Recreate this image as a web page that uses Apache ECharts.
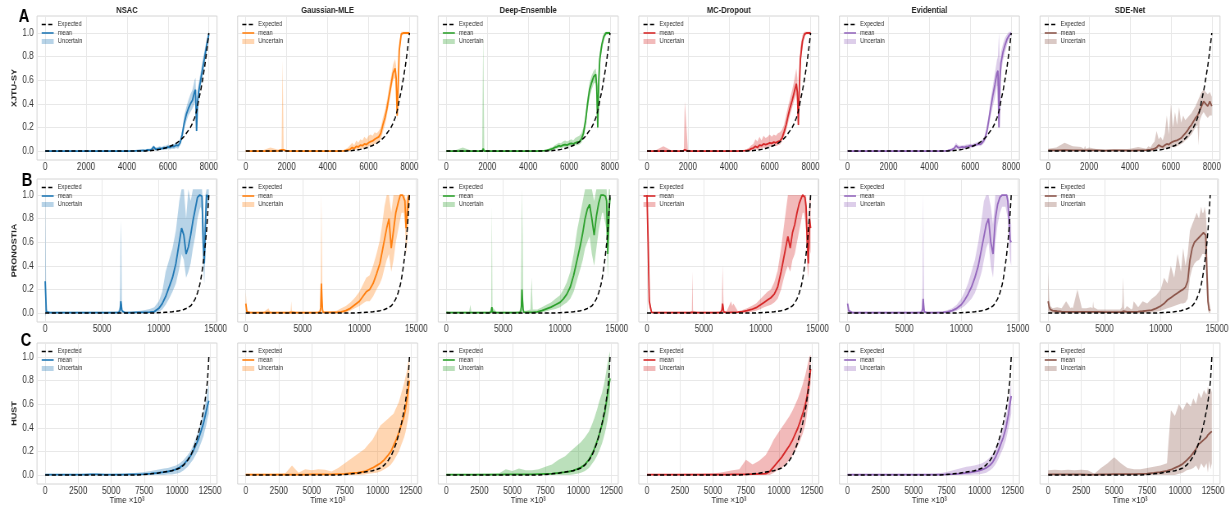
<!DOCTYPE html>
<html><head><meta charset="utf-8">
<script src="https://cdn.jsdelivr.net/npm/echarts@6/dist/echarts.min.js"></script>
<style>html,body{margin:0;padding:0;background:#fff;overflow:hidden;width:1231px;height:505px}
#c{width:1501px;height:505px;transform:scaleX(0.82);transform-origin:0 0}</style>
</head><body><div id="c"></div>
<script>
// ---------------- DATA ----------------
const METHODS = ['NSAC', 'Gaussian-MLE', 'Deep-Ensemble', 'MC-Dropout', 'Evidential', 'SDE-Net'];
const DATASETS = ['XJTU-SY', 'PRONOSTIA', 'HUST'];
const LETTERS = ['A', 'B', 'C'];
const X_TICKS_A = [0, 2000, 4000, 6000, 8000];
const X_TICKS_B = [0, 5000, 10000, 15000];
const X_TICKS_C = [0, 2500, 5000, 7500, 10000, 12500];
const Y_TICKS = [0, 0.2, 0.4, 0.6, 0.8, 1.0];

// Row A (XJTU-SY)
const X_A = [0,400,800,1200,1600,1750,1800,1850,2000,2400,2800,3200,3600,4000,4400, 4800,4900,5000,5100,5200,5300,5400,5500,5600,5700, 5800,5900,6000,6100,6200,6300,6400,6500,6600,6700, 6800,6900,7000,7100,7200,7300,7350,7400,7450,7500, 7600,7700,7800,7900,8000];
const EXP_A = [0,0,0,0,0,0,0,0,0,0,0,0,0,0,0, 0.001,0.001,0.002,0.003,0.004,0.006,0.008,0.011,0.014,0.018, 0.022,0.027,0.033,0.04,0.047,0.056,0.065,0.077,0.09,0.107, 0.125,0.15,0.175,0.2,0.235,0.28,0.305,0.34,0.38,0.43, 0.51,0.61,0.72,0.85,1.0];

const A_NSAC_MEAN = [0,0,0,0,0,0,0,0,0,0,0,0,0,0,0.002, 0.005,0.004,0.01,0.008,0.012,0.035,0.015,0.018,0.022,0.02, 0.028,0.025,0.035,0.03,0.04,0.038,0.05,0.045,0.07,0.14, 0.24,0.31,0.36,0.4,0.43,0.5,0.52,0.17,0.42,0.5, 0.6,0.7,0.8,0.9,0.99];
const A_NSAC_LO = [0,0,0,0,0,0,0,0,0,0,0,0,0,0,0, 0,0,0.002,0,0.003,0.015,0.005,0.005,0.01,0.008, 0.012,0.01,0.018,0.012,0.02,0.018,0.025,0.02,0.05,0.1, 0.19,0.25,0.3,0.33,0.36,0.4,0.42,0.15,0.36,0.44, 0.54,0.64,0.74,0.85,0.95];
const A_NSAC_HI = [0.005,0.005,0.005,0.005,0.005,0.005,0.005,0.005,0.005,0.005,0.005,0.005,0.005,0.005,0.006, 0.01,0.01,0.02,0.02,0.025,0.05,0.03,0.035,0.04,0.035, 0.045,0.045,0.055,0.05,0.06,0.06,0.075,0.07,0.1,0.18, 0.3,0.37,0.43,0.48,0.52,0.6,0.62,0.3,0.5,0.57, 0.67,0.77,0.86,0.95,1.02];

const A_GAU_MEAN = [0,0,0,0,0.002,0.01,0.02,0.01,0,0,0,0,0,0,0, 0.002,0.005,0.01,0.015,0.03,0.02,0.04,0.035,0.05,0.045, 0.06,0.055,0.07,0.08,0.085,0.1,0.11,0.12,0.15,0.22, 0.28,0.36,0.46,0.56,0.66,0.7,0.62,0.3,0.55,0.85, 0.99,1.0,1.0,1.0,1.0];
const A_GAU_LO = [0,0,0,0,0,0,0,0,0,0,0,0,0,0,0, 0,0,0,0.002,0.01,0.005,0.015,0.01,0.02,0.02, 0.03,0.025,0.04,0.045,0.05,0.06,0.07,0.08,0.1,0.16, 0.22,0.3,0.4,0.5,0.6,0.62,0.5,0.25,0.48,0.8, 0.97,0.99,0.99,0.99,0.99];
const A_GAU_HI = [0.005,0.005,0.005,0.03,0.01,0.02,0.77,0.02,0.005,0.005,0.005,0.005,0.005,0.005,0.005, 0.008,0.02,0.03,0.05,0.07,0.05,0.09,0.07,0.1,0.09, 0.12,0.1,0.13,0.14,0.13,0.16,0.15,0.17,0.2,0.28, 0.34,0.43,0.53,0.63,0.73,0.78,0.72,0.42,0.62,0.92, 1.01,1.01,1.01,1.01,1.01];

const A_DE_MEAN = [0,0,0,0,0,0,0.02,0,0,0,0,0,0,0,0, 0.003,0.005,0.01,0.015,0.02,0.03,0.035,0.045,0.04,0.05, 0.055,0.05,0.06,0.065,0.06,0.07,0.075,0.08,0.1,0.15, 0.25,0.4,0.52,0.58,0.63,0.65,0.55,0.2,0.6,0.78, 0.9,0.97,1.0,1.0,1.0];
const A_DE_LO = [0,0,0,0,0,0,0,0,0,0,0,0,0,0,0, 0,0,0,0.005,0.008,0.015,0.02,0.025,0.022,0.03, 0.035,0.03,0.04,0.045,0.04,0.05,0.05,0.055,0.07,0.11, 0.2,0.34,0.46,0.52,0.57,0.58,0.35,0.17,0.5,0.72, 0.86,0.94,0.98,0.99,0.99];
const A_DE_HI = [0.005,0.005,0.03,0.005,0.005,0.01,1.0,0.01,0.005,0.005,0.005,0.005,0.005,0.005,0.005, 0.008,0.012,0.02,0.03,0.035,0.05,0.06,0.07,0.065,0.08, 0.09,0.08,0.09,0.1,0.09,0.11,0.12,0.13,0.15,0.2, 0.31,0.46,0.58,0.64,0.68,0.7,0.64,0.3,0.66,0.84, 0.94,1.0,1.01,1.01,1.01];

const A_MC_MEAN = [0,0,0,0,0,0,0,0.01,0,0,0,0,0,0,0, 0.003,0.006,0.01,0.02,0.025,0.04,0.03,0.05,0.045,0.06, 0.055,0.06,0.07,0.065,0.075,0.07,0.08,0.085,0.11,0.16, 0.22,0.3,0.37,0.43,0.5,0.57,0.5,0.22,0.55,0.78, 0.93,0.99,1.0,1.0,1.0];
const A_MC_LO = [0,0,0,0,0,0,0,0,0,0,0,0,0,0,0, 0,0,0,0.005,0.01,0.015,0.01,0.02,0.02,0.03, 0.025,0.03,0.04,0.035,0.045,0.04,0.05,0.055,0.08,0.12, 0.17,0.24,0.31,0.37,0.43,0.48,0.4,0.2,0.45,0.7, 0.88,0.97,0.99,0.99,0.99];
const A_MC_HI = [0.005,0.005,0.04,0.005,0.005,0.005,0.01,0.42,0.01,0.005,0.005,0.005,0.005,0.005,0.005, 0.01,0.02,0.03,0.05,0.06,0.1,0.08,0.12,0.09,0.13, 0.11,0.12,0.14,0.12,0.14,0.13,0.15,0.16,0.18,0.22, 0.3,0.38,0.45,0.52,0.6,0.7,0.62,0.4,0.66,0.88, 0.98,1.01,1.01,1.01,1.01];

const A_EV_MEAN = [0,0,0,0,0,0,0,0,0,0,0,0,0,0,0, 0.002,0.004,0.008,0.012,0.02,0.045,0.03,0.028,0.035,0.03, 0.038,0.04,0.045,0.042,0.05,0.055,0.06,0.058,0.075,0.1, 0.16,0.26,0.37,0.47,0.56,0.66,0.68,0.2,0.62,0.75, 0.84,0.9,0.95,0.98,1.0];
const A_EV_LO = [0,0,0,0,0,0,0,0,0,0,0,0,0,0,0, 0,0,0,0.002,0.008,0.02,0.015,0.012,0.02,0.015, 0.02,0.025,0.03,0.028,0.035,0.04,0.042,0.04,0.055,0.075, 0.12,0.2,0.3,0.38,0.45,0.55,0.55,0.18,0.5,0.66, 0.77,0.84,0.9,0.95,0.99];
const A_EV_HI = [0.004,0.004,0.004,0.004,0.004,0.004,0.004,0.004,0.004,0.004,0.004,0.004,0.004,0.004,0.004, 0.006,0.01,0.018,0.025,0.035,0.07,0.05,0.045,0.05,0.048, 0.055,0.058,0.062,0.06,0.068,0.072,0.08,0.078,0.1,0.13, 0.2,0.31,0.44,0.55,0.66,0.77,0.8,1.0,0.74,0.84, 0.91,0.96,0.99,1.01,1.01];

const A_SDE_MEAN = [0.005,0.005,0.008,0.006,0.005,0.005,0.007,0.005,0.005,0.006,0.004,0.005,0.005,0.004,0.006, 0.008,0.01,0.012,0.015,0.02,0.03,0.05,0.04,0.035,0.05, 0.06,0.055,0.07,0.08,0.085,0.09,0.1,0.11,0.13,0.15, 0.17,0.2,0.22,0.25,0.28,0.3,0.32,0.34,0.36,0.38, 0.42,0.4,0.38,0.42,0.38];
const A_SDE_LO = [0,0,0,0,0,0,0,0,0,0,0,0,0,0,0, 0,0,0,0,0.005,0.01,0.02,0.015,0.01,0.02, 0.025,0.02,0.03,0.04,0.03,0.04,0.05,0.06,0.07,0.09, 0.1,0.12,0.14,0.17,0.2,0.22,0.05,0.25,0.28,0.3, 0.33,0.3,0.28,0.3,0.3];
const A_SDE_HI = [0.02,0.03,0.07,0.04,0.035,0.02,0.045,0.02,0.03,0.015,0.01,0.015,0.012,0.02,0.035, 0.02,0.04,0.03,0.06,0.08,0.17,0.1,0.12,0.09,0.15, 0.3,0.14,0.4,0.2,0.33,0.22,0.37,0.24,0.3,0.26, 0.28,0.3,0.32,0.35,0.38,0.42,0.44,0.46,0.48,0.5, 0.52,0.5,0.48,0.5,0.46];

// Row B (PRONOSTIA)
const X_B = [0,100,200,400,800,1200,1600,2000,2100,2200, 2600,3000,3400,3800,3950,4000,4050,4400,5000,5500, 6000,6400,6550,6600,6650,6700,6750,6800,7000,7400, 7500,7600,8000,8400,8800,9200,9600,10000,10300,10600, 10900,11200,11500,11800,12000,12200,12400,12600,12800,13000, 13200,13400,13600,13700,13800,13900,14000,14100,14200,14300, 14400];
const EXP_B = [0,0,0,0,0,0,0,0,0,0, 0,0,0,0,0,0,0,0,0,0, 0,0,0,0,0,0,0,0,0,0, 0,0,0,0,0,0,0,0.003,0.004,0.006, 0.008,0.011,0.015,0.02,0.025,0.03,0.038,0.048,0.06,0.085, 0.12,0.17,0.24,0.29,0.35,0.42,0.5,0.59,0.7,0.84, 1.0];

const B_NSAC_MEAN = [0.27,0.01,0.005,0.004,0.003,0.003,0.003,0.003,0.003,0.003, 0.003,0.003,0.003,0.003,0.003,0.004,0.003,0.003,0.003,0.003, 0.003,0.004,0.01,0.03,0.1,0.07,0.02,0.006,0.004,0.004, 0.004,0.004,0.005,0.005,0.006,0.008,0.012,0.04,0.08,0.14, 0.22,0.3,0.42,0.6,0.72,0.66,0.5,0.56,0.66,0.78, 0.88,0.98,1.0,1.0,0.99,0.6,0.42,0.75,1.0,1.0, 0.98];
const B_NSAC_LO = [-0.03,0,0,0,0,0,0,0,0,0, 0,0,0,0,0,0,0,0,0,0, 0,0,0,0.01,0.05,0.03,0,0,0,0, 0,0,0,0,0,0,0,0.01,0.03,0.07, 0.12,0.18,0.25,0.38,0.5,0.45,0.3,0.35,0.42,0.55, 0.65,0.8,0.88,0.9,0.85,0.4,0.25,0.5,0.85,0.9, 0.9];
const B_NSAC_HI = [1.05,0.05,0.015,0.01,0.01,0.01,0.01,0.01,0.01,0.01, 0.01,0.01,0.01,0.01,0.01,0.01,0.01,0.01,0.01,0.01, 0.01,0.012,0.05,0.25,0.78,0.55,0.08,0.015,0.01,0.01, 0.012,0.012,0.015,0.02,0.025,0.035,0.05,0.1,0.18,0.35, 0.45,0.55,0.7,0.95,1.05,1.05,0.8,1.05,0.95,1.05, 1.05,1.05,1.05,1.05,1.05,0.9,0.65,1.0,1.05,1.05, 1.05];

const B_GAU_MEAN = [0.08,0.01,0.005,0.004,0.004,0.004,0.004,0.005,0.006,0.004, 0.004,0.004,0.004,0.004,0.006,0.01,0.005,0.004,0.004,0.004, 0.004,0.005,0.01,0.05,0.25,0.12,0.03,0.006,0.005,0.005, 0.005,0.005,0.006,0.01,0.02,0.04,0.07,0.1,0.14,0.18, 0.2,0.25,0.33,0.42,0.52,0.62,0.72,0.8,0.55,0.7, 0.85,0.93,1.0,1.0,1.0,1.0,0.95,0.72,0.85,0.98, 1.0];
const B_GAU_LO = [0,0,0,0,0,0,0,0,0,0, 0,0,0,0,0,0,0,0,0,0, 0,0,0,0.02,0.12,0.06,0.01,0,0,0, 0,0,0,0,0.005,0.02,0.04,0.06,0.08,0.1, 0.1,0.14,0.2,0.25,0.3,0.38,0.45,0.5,0.35,0.45, 0.6,0.7,0.8,0.85,0.85,0.85,0.75,0.5,0.6,0.8, 0.9];
const B_GAU_HI = [0.18,0.03,0.01,0.01,0.01,0.01,0.01,0.04,0.02,0.01, 0.01,0.01,0.01,0.01,0.02,0.1,0.02,0.01,0.01,0.01, 0.01,0.012,0.04,0.3,1.0,0.5,0.08,0.015,0.012,0.012, 0.012,0.015,0.02,0.04,0.06,0.09,0.13,0.18,0.24,0.3, 0.32,0.4,0.5,0.62,0.75,0.9,1.0,1.0,0.85,1.0, 1.0,1.0,1.0,1.0,1.0,1.0,1.0,0.95,1.0,1.0, 1.0];

const B_DE_MEAN = [0.005,0.003,0.003,0.003,0.003,0.003,0.003,0.003,0.01,0.003, 0.003,0.003,0.003,0.003,0.01,0.05,0.01,0.003,0.003,0.003, 0.003,0.004,0.01,0.06,0.2,0.1,0.03,0.008,0.005,0.006, 0.01,0.006,0.01,0.02,0.035,0.05,0.07,0.09,0.12,0.16, 0.22,0.32,0.45,0.58,0.68,0.8,0.88,0.92,0.8,0.66, 0.82,0.93,1.0,1.0,1.0,1.0,0.99,0.95,0.5,0.85, 0.98];
const B_DE_LO = [0,0,0,0,0,0,0,0,0,0, 0,0,0,0,0,0,0,0,0,0, 0,0,0,0.02,0.1,0.05,0.01,0,0,0, 0,0,0,0.005,0.015,0.025,0.035,0.05,0.07,0.09, 0.12,0.18,0.28,0.38,0.45,0.55,0.6,0.65,0.5,0.4, 0.55,0.7,0.8,0.85,0.85,0.8,0.75,0.7,0.3,0.6, 0.8];
const B_DE_HI = [0.01,0.01,0.01,0.01,0.01,0.01,0.01,0.01,0.07,0.01, 0.01,0.01,0.01,0.01,0.05,0.9,0.05,0.01,0.01,0.01, 0.01,0.015,0.05,0.5,1.05,0.7,0.15,0.02,0.02,0.03, 0.3,0.03,0.03,0.05,0.07,0.09,0.12,0.15,0.2,0.26, 0.35,0.5,0.7,0.85,0.95,1.05,1.05,1.05,1.05,0.95, 1.05,1.05,1.05,1.05,1.05,1.05,1.05,1.05,0.9,1.05, 1.05];

const B_MC_MEAN = [1.0,0.6,0.1,0.005,0.003,0.003,0.003,0.003,0.003,0.003, 0.003,0.003,0.003,0.003,0.005,0.015,0.005,0.003,0.003,0.003, 0.003,0.004,0.01,0.03,0.08,0.05,0.01,0.005,0.004,0.005, 0.006,0.005,0.008,0.012,0.02,0.03,0.045,0.07,0.09,0.11, 0.13,0.16,0.22,0.35,0.45,0.55,0.65,0.55,0.68,0.75, 0.85,0.93,0.98,1.0,1.0,0.98,0.9,0.6,0.42,0.8, 0.72];
const B_MC_LO = [0.95,0.5,0.05,0,0,0,0,0,0,0, 0,0,0,0,0,0,0,0,0,0, 0,0,0,0.01,0.03,0.02,0,0,0,0, 0,0,0,0,0.005,0.01,0.02,0.035,0.05,0.06, 0.07,0.09,0.12,0.2,0.28,0.35,0.4,0.35,0.45,0.5, 0.6,0.7,0.8,0.85,0.85,0.8,0.7,0.4,0.3,0.55, 0.5];
const B_MC_HI = [1.05,0.7,0.15,0.01,0.01,0.01,0.01,0.01,0.01,0.01, 0.01,0.01,0.01,0.01,0.02,0.35,0.02,0.01,0.01,0.01, 0.01,0.012,0.03,0.1,0.4,0.2,0.03,0.012,0.012,0.1, 0.06,0.08,0.015,0.025,0.04,0.06,0.08,0.12,0.15,0.18, 0.2,0.26,0.36,0.55,0.7,0.85,1.0,1.0,1.0,1.0, 1.0,1.0,1.0,1.0,1.0,1.0,1.0,0.85,0.65,1.0, 0.95];

const B_EV_MEAN = [0.08,0.02,0.005,0.003,0.003,0.003,0.003,0.003,0.003,0.003, 0.003,0.003,0.003,0.003,0.003,0.003,0.003,0.003,0.003,0.003, 0.003,0.004,0.01,0.03,0.12,0.06,0.01,0.004,0.003,0.003, 0.003,0.003,0.004,0.006,0.01,0.02,0.04,0.07,0.11,0.16, 0.22,0.3,0.4,0.55,0.65,0.75,0.8,0.6,0.5,0.8, 0.92,0.98,1.0,1.0,1.0,1.0,1.0,0.95,0.8,0.62, 0.6];
const B_EV_LO = [0.02,0,0,0,0,0,0,0,0,0, 0,0,0,0,0,0,0,0,0,0, 0,0,0,0.01,0.05,0.02,0,0,0,0, 0,0,0,0,0,0.005,0.02,0.04,0.06,0.09, 0.12,0.17,0.25,0.35,0.45,0.55,0.6,0.4,0.3,0.6, 0.75,0.85,0.9,0.9,0.9,0.9,0.85,0.8,0.6,0.45, 0.4];
const B_EV_HI = [0.1,0.04,0.01,0.01,0.01,0.01,0.01,0.01,0.01,0.01, 0.01,0.01,0.01,0.01,0.01,0.01,0.01,0.01,0.01,0.01, 0.01,0.012,0.04,0.3,1.0,0.4,0.04,0.01,0.01,0.01, 0.01,0.01,0.012,0.015,0.025,0.04,0.07,0.12,0.18,0.25, 0.35,0.45,0.6,0.8,0.95,1.0,1.0,0.9,0.75,1.0, 1.0,1.0,1.0,1.0,1.0,1.0,1.0,1.0,0.95,0.8, 0.75];

const B_SDE_MEAN = [0.1,0.05,0.03,0.02,0.015,0.012,0.01,0.01,0.012,0.01, 0.01,0.01,0.01,0.01,0.01,0.012,0.01,0.01,0.008,0.008, 0.008,0.008,0.01,0.015,0.02,0.015,0.01,0.01,0.01,0.01, 0.01,0.01,0.012,0.015,0.02,0.025,0.04,0.06,0.08,0.11, 0.13,0.15,0.17,0.19,0.2,0.22,0.27,0.45,0.55,0.6, 0.62,0.64,0.66,0.67,0.68,0.68,0.66,0.35,0.1,0.03, 0.02];
const B_SDE_LO = [0.02,0,0,0,0,0,0,0,0,0, 0,0,0,0,0,0,0,0,0,0, 0,0,0,0,0,0,0,0,0,0, 0,0,0,0,0,0.005,0.01,0.02,0.03,0.04, 0.05,0.06,0.07,0.08,0.08,0.09,0.12,0.3,0.38,0.42, 0.44,0.45,0.48,0.5,0.5,0.5,0.45,0.15,0.02,0, 0];
const B_SDE_HI = [0.35,0.12,0.06,0.04,0.05,0.04,0.1,0.04,0.05,0.04, 0.2,0.04,0.04,0.05,0.04,0.1,0.05,0.03,0.03,0.03, 0.03,0.03,0.05,0.1,0.3,0.15,0.05,0.03,0.06,0.03, 0.04,0.1,0.05,0.1,0.08,0.12,0.15,0.2,0.3,0.25, 0.4,0.3,0.5,0.35,0.55,0.4,0.5,0.7,0.75,0.8, 0.85,0.8,0.9,0.85,0.85,0.9,0.85,0.7,0.3,0.1, 0.05];

// Row C (HUST)
const X_C = [0,500,1000,1500,2000,2500,3000,3500,4000,4500, 5000,5500,6000,6500,7000,7500,8000,8500,9000,9300, 9600,9900,10200,10500,10800,11000,11200,11400,11600,11800, 12000,12100,12200,12300,12400];
const EXP_C = [0,0,0,0,0,0,0,0,0,0, 0,0,0,0,0,0.005,0.01,0.016,0.025,0.03, 0.037,0.046,0.06,0.085,0.125,0.16,0.21,0.27,0.35,0.44, 0.55,0.62,0.7,0.8,1.0];

const C_NSAC_MEAN = [0.003,0.003,0.003,0.003,0.003,0.003,0.004,0.005,0.005,0.004, 0.004,0.004,0.004,0.005,0.005,0.008,0.012,0.018,0.025,0.03, 0.038,0.048,0.065,0.09,0.13,0.16,0.2,0.25,0.3,0.37, 0.44,0.49,0.54,0.59,0.63];
const C_NSAC_LO = [0,0,0,0,0,0,0,0,0,0, 0,0,0,0,0,0,0,0,0,0.005, 0.005,0.01,0.02,0.04,0.07,0.1,0.13,0.17,0.21,0.27, 0.33,0.38,0.42,0.48,0.52];
const C_NSAC_HI = [0.006,0.006,0.006,0.006,0.006,0.006,0.01,0.012,0.01,0.008, 0.008,0.01,0.012,0.015,0.02,0.025,0.035,0.045,0.055,0.06, 0.07,0.08,0.1,0.13,0.17,0.2,0.25,0.31,0.37,0.45, 0.54,0.59,0.65,0.72,0.77];

const C_GAU_MEAN = [0.003,0.003,0.003,0.003,0.003,0.003,0.003,0.004,0.004,0.004, 0.005,0.005,0.005,0.006,0.008,0.01,0.015,0.02,0.03,0.045, 0.06,0.08,0.1,0.13,0.17,0.2,0.25,0.3,0.36,0.43, 0.5,0.56,0.63,0.71,0.8];
const C_GAU_LO = [0,0,0,0,0,0,0,0,0,0, 0,0,0,0,0,0,0,0,0.005,0.01, 0.015,0.02,0.03,0.05,0.07,0.09,0.12,0.16,0.2,0.26, 0.32,0.36,0.42,0.48,0.55];
const C_GAU_HI = [0.01,0.01,0.01,0.01,0.01,0.012,0.015,0.08,0.02,0.05, 0.04,0.05,0.045,0.03,0.06,0.1,0.14,0.18,0.22,0.26, 0.3,0.36,0.42,0.45,0.48,0.5,0.52,0.57,0.62,0.7, 0.78,0.83,0.88,0.95,1.0];

const C_DE_MEAN = [0.003,0.003,0.003,0.003,0.003,0.003,0.003,0.004,0.004,0.005, 0.005,0.006,0.005,0.006,0.008,0.01,0.012,0.018,0.025,0.03, 0.038,0.05,0.065,0.09,0.13,0.17,0.22,0.28,0.35,0.43, 0.53,0.6,0.67,0.74,0.82];
const C_DE_LO = [0,0,0,0,0,0,0,0,0,0, 0,0,0,0,0,0,0,0,0,0, 0.005,0.01,0.02,0.035,0.06,0.09,0.12,0.16,0.21,0.27, 0.35,0.4,0.46,0.53,0.6];
const C_DE_HI = [0.008,0.008,0.008,0.008,0.008,0.01,0.01,0.012,0.015,0.05, 0.035,0.055,0.04,0.04,0.05,0.07,0.09,0.13,0.16,0.19, 0.22,0.25,0.28,0.32,0.37,0.42,0.48,0.55,0.63,0.7, 0.8,0.87,0.94,1.0,1.05];

const C_MC_MEAN = [0.003,0.003,0.003,0.003,0.003,0.003,0.003,0.003,0.003,0.003, 0.004,0.004,0.004,0.005,0.005,0.006,0.008,0.01,0.012,0.03, 0.07,0.11,0.15,0.2,0.25,0.29,0.34,0.39,0.45,0.52, 0.6,0.65,0.72,0.8,0.9];
const C_MC_LO = [0,0,0,0,0,0,0,0,0,0, 0,0,0,0,0,0,0,0,0,0, 0.02,0.04,0.06,0.09,0.13,0.16,0.2,0.24,0.29,0.35, 0.43,0.5,0.58,0.67,0.78];
const C_MC_HI = [0.008,0.008,0.008,0.008,0.008,0.008,0.01,0.01,0.01,0.012, 0.015,0.02,0.03,0.04,0.05,0.13,0.09,0.12,0.17,0.23, 0.3,0.35,0.4,0.45,0.5,0.54,0.59,0.64,0.7,0.77, 0.85,0.9,0.95,1.0,1.02];

const C_EV_MEAN = [0.003,0.003,0.003,0.003,0.003,0.003,0.003,0.003,0.003,0.003, 0.003,0.004,0.004,0.004,0.004,0.005,0.008,0.012,0.018,0.022, 0.028,0.035,0.045,0.06,0.085,0.11,0.15,0.2,0.26,0.32, 0.4,0.46,0.52,0.6,0.67];
const C_EV_LO = [0,0,0,0,0,0,0,0,0,0, 0,0,0,0,0,0,0,0,0,0, 0.005,0.005,0.01,0.02,0.04,0.06,0.09,0.13,0.18,0.23, 0.3,0.35,0.4,0.46,0.52];
const C_EV_HI = [0.006,0.006,0.006,0.006,0.006,0.006,0.006,0.006,0.006,0.006, 0.007,0.008,0.008,0.01,0.015,0.025,0.04,0.055,0.07,0.075, 0.08,0.09,0.1,0.12,0.15,0.18,0.22,0.28,0.34,0.41, 0.5,0.56,0.62,0.7,0.78];

const C_SDE_MEAN = [0.005,0.006,0.005,0.006,0.005,0.005,0.004,0.003,0.005,0.006, 0.007,0.008,0.007,0.008,0.01,0.012,0.018,0.025,0.035,0.045, 0.06,0.075,0.095,0.125,0.16,0.19,0.22,0.26,0.28,0.3, 0.32,0.34,0.35,0.36,0.37];
const C_SDE_LO = [0,0,0,0,0,0,0,0,0,0, 0,0,0,0,0,0,0,0,0,0, 0,0.01,0.02,0.04,0.05,0.06,0.08,0.04,0.1,0.06, 0.1,0.02,0.12,0.05,0.1];
const C_SDE_HI = [0.04,0.045,0.04,0.045,0.04,0.045,0.04,0.01,0.06,0.1, 0.15,0.1,0.06,0.05,0.05,0.06,0.07,0.08,0.1,0.55, 0.5,0.6,0.55,0.62,0.58,0.65,0.6,0.7,0.65,0.72, 0.68,0.75,0.7,0.74,0.7];

// ---------------- STYLE / LAYOUT ----------------
// The page is drawn 1/SX wider and squeezed horizontally by CSS, like the reference figure.
const SX = 0.82;
const COLORS = ['#1f77b4', '#ff7f0e', '#2ca02c', '#d62728', '#9467bd', '#8c564b'];
const BANDS = ['rgba(31,119,180,0.32)', 'rgba(255,127,14,0.32)', 'rgba(44,160,44,0.32)', 'rgba(214,39,40,0.32)', 'rgba(148,103,189,0.32)', 'rgba(140,86,75,0.32)'];
const FONT = "'Liberation Sans', Arial, sans-serif";
const COL_LEFT = [37, 237.6, 438.2, 638.8, 839.4, 1040];   // screen px
const COL_W = 180;
const ROW_TOP = [16, 179, 343];
const ROW_H = [144, 143, 141];
const X_RANGE = [[-400, 8400], [-720, 15120], [-620, 13020]];
const Y_RANGE = [[-0.076, 1.144], [-0.076, 1.136], [-0.076, 1.119]];
const sx = v => v / SX;

const ROWS = [
  { x: X_A, exp: EXP_A, ticks: X_TICKS_A, panels: [
    ['A_NSAC', A_NSAC_MEAN, A_NSAC_LO, A_NSAC_HI], ['A_GAU', A_GAU_MEAN, A_GAU_LO, A_GAU_HI],
    ['A_DE', A_DE_MEAN, A_DE_LO, A_DE_HI], ['A_MC', A_MC_MEAN, A_MC_LO, A_MC_HI],
    ['A_EV', A_EV_MEAN, A_EV_LO, A_EV_HI], ['A_SDE', A_SDE_MEAN, A_SDE_LO, A_SDE_HI]] },
  { x: X_B, exp: EXP_B, ticks: X_TICKS_B, panels: [
    ['B_NSAC', B_NSAC_MEAN, B_NSAC_LO, B_NSAC_HI], ['B_GAU', B_GAU_MEAN, B_GAU_LO, B_GAU_HI],
    ['B_DE', B_DE_MEAN, B_DE_LO, B_DE_HI], ['B_MC', B_MC_MEAN, B_MC_LO, B_MC_HI],
    ['B_EV', B_EV_MEAN, B_EV_LO, B_EV_HI], ['B_SDE', B_SDE_MEAN, B_SDE_LO, B_SDE_HI]] },
  { x: X_C, exp: EXP_C, ticks: X_TICKS_C, panels: [
    ['C_NSAC', C_NSAC_MEAN, C_NSAC_LO, C_NSAC_HI], ['C_GAU', C_GAU_MEAN, C_GAU_LO, C_GAU_HI],
    ['C_DE', C_DE_MEAN, C_DE_LO, C_DE_HI], ['C_MC', C_MC_MEAN, C_MC_LO, C_MC_HI],
    ['C_EV', C_EV_MEAN, C_EV_LO, C_EV_HI], ['C_SDE', C_SDE_MEAN, C_SDE_LO, C_SDE_HI]] }
];

const grid = [], xAxis = [], yAxis = [], series = [], legend = [], graphic = [];
const bad = [];
ROWS.forEach((row, r) => {
  if (row.exp.length !== row.x.length) bad.push('EXP row ' + r + ': ' + row.exp.length);
  row.panels.forEach((p, c) => {
    const [nm, mean, lo, hi] = p;
    [mean, lo, hi].forEach((a, k) => { if (a.length !== row.x.length) bad.push(nm + ['_MEAN', '_LO', '_HI'][k] + ': ' + a.length + ' vs ' + row.x.length); });
    const gi = grid.length;
    grid.push({ left: sx(COL_LEFT[c]), top: ROW_TOP[r], width: sx(COL_W), height: ROW_H[r], show: true,
      borderColor: '#d4d4d4', borderWidth: 1, backgroundColor: '#ffffff' });
    xAxis.push({ gridIndex: gi, type: 'value', min: X_RANGE[r][0], max: X_RANGE[r][1],
      axisLine: { show: false }, axisTick: { show: false, customValues: row.ticks },
      axisLabel: { customValues: row.ticks, formatter: v => String(v), fontSize: 10, color: '#333', margin: 2, fontFamily: FONT },
      splitLine: { show: true, lineStyle: { color: '#e8e8e8', width: 1 } } });
    yAxis.push({ gridIndex: gi, type: 'value', min: Y_RANGE[r][0], max: Y_RANGE[r][1],
      axisLine: { show: false }, axisTick: { show: false, customValues: Y_TICKS },
      axisLabel: { show: c === 0, customValues: Y_TICKS, formatter: v => v.toFixed(1), fontSize: 10, color: '#333', margin: 4, fontFamily: FONT },
      splitLine: { show: true, lineStyle: { color: '#e8e8e8', width: 1 } } });
    const pairs = ys => row.x.map((x, i) => [x, ys[i]]);
    const xs = row.x;
    // uncertainty band: one polygon (upper edge forward, lower edge back), placed via the axis scales
    series.push({ type: 'custom', name: 'Uncertain', xAxisIndex: gi, yAxisIndex: gi, silent: true, z: 1,
      color: COLORS[c], animation: false,
      data: xs.map((x, i) => [x, lo[i], hi[i]]),
      encode: { x: 0, y: [1, 2] },
      renderItem: (params, api) => {
        if (params.dataIndex !== 0) return null;
        const pts = [];
        for (let i = 0; i < xs.length; i++) pts.push(api.coord([xs[i], hi[i]]));
        for (let i = xs.length - 1; i >= 0; i--) pts.push(api.coord([xs[i], lo[i]]));
        return { type: 'polygon', shape: { points: pts }, style: { fill: BANDS[c], stroke: null } };
      } });
    const common = { type: 'line', xAxisIndex: gi, yAxisIndex: gi, symbol: 'none', showSymbol: false, animation: false, emphasis: { disabled: true }, silent: true };
    series.push(Object.assign({}, common, { name: 'mean', data: pairs(mean), lineStyle: { color: COLORS[c], width: 1.8 }, color: COLORS[c], z: 3 }));
    series.push(Object.assign({}, common, { name: 'Expected', data: pairs(row.exp), lineStyle: { color: '#000', width: 1.5, type: [5, 3] }, color: '#000', z: 4 }));
    legend.push({ left: sx(COL_LEFT[c] + 4), top: ROW_TOP[r] + 5, orient: 'vertical', padding: 0,
      itemWidth: sx(12), itemHeight: 5, itemGap: 1.5, selectedMode: false, z: 10,
      textStyle: { fontSize: 7, color: '#333', fontFamily: FONT },
      data: [
        { name: 'Expected', itemStyle: { opacity: 0 }, lineStyle: { color: '#000', type: [5, 3], width: 1.5 } },
        { name: 'mean', itemStyle: { color: COLORS[c], opacity: 0 }, lineStyle: { color: COLORS[c], width: 1.6 } },
        { name: 'Uncertain', icon: 'rect', itemStyle: { color: BANDS[c], borderWidth: 0, opacity: 1 } }
      ] });
    if (r === 0) {
      graphic.push({ type: 'text', x: sx(COL_LEFT[c] + COL_W / 2), y: 10.5, silent: true,
        style: { text: METHODS[c], font: 'bold 9.3px ' + FONT, fill: '#262626', align: 'center', verticalAlign: 'middle' } });
    }
    if (r === 2) {
      graphic.push({ type: 'text', x: sx(COL_LEFT[c] + COL_W / 2), y: 500, silent: true,
        style: { text: 'Time ×10³', font: '9.5px ' + FONT, fill: '#262626', align: 'center', verticalAlign: 'middle' } });
    }
  });
  graphic.push({ type: 'text', x: sx(14), y: ROW_TOP[r] + ROW_H[r] / 2, rotation: Math.PI / 2, silent: true,
    style: { text: DATASETS[r], font: 'bold 9px ' + FONT, fill: '#262626', align: 'center', verticalAlign: 'middle' } });
});
graphic.push({ type: 'text', x: sx(24), y: 17, silent: true, style: { text: LETTERS[0], font: 'bold 18px ' + FONT, fill: '#000', align: 'center', verticalAlign: 'middle' } });
graphic.push({ type: 'text', x: sx(27), y: 181, silent: true, style: { text: LETTERS[1], font: 'bold 18px ' + FONT, fill: '#000', align: 'center', verticalAlign: 'middle' } });
graphic.push({ type: 'text', x: sx(26), y: 341, silent: true, style: { text: LETTERS[2], font: 'bold 18px ' + FONT, fill: '#000', align: 'center', verticalAlign: 'middle' } });
if (bad.length) throw new Error('Length mismatch: ' + bad.join('; '));

const chart = echarts.init(document.getElementById('c'), null, { renderer: 'canvas' });
chart.setOption({ animation: false, backgroundColor: '#ffffff', grid, xAxis, yAxis, series, legend, graphic });
</script></body></html>
